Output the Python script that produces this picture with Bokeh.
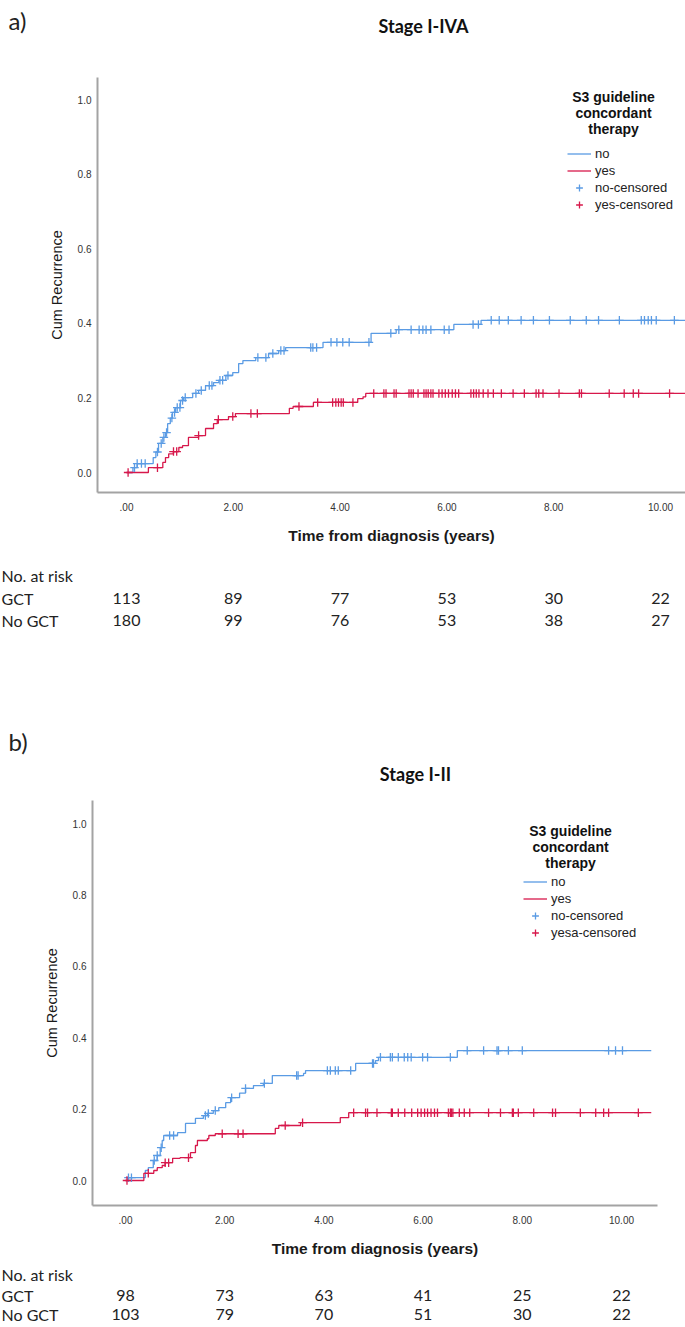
import numpy as np
from bokeh.plotting import figure
from bokeh.models import (Range1d, FixedTicker, Legend, LegendItem, Label,
                          LabelSet, ColumnDataSource)
from bokeh.core.properties import value
from bokeh.embed import file_html
from bokeh.resources import INLINE

BLUE = "#5a9be4"
RED = "#d7184b"
AXIS_GRAY = "#a3a3a3"
TEXT = "#222222"
W = 685

# ---------------- data ----------------
x_ticks = [0, 2, 4, 6, 8, 10]
x_tick_labels = [".00", "2.00", "4.00", "6.00", "8.00", "10.00"]
y_ticks = [0.0, 0.2, 0.4, 0.6, 0.8, 1.0]
y_tick_labels = ["0.0", "0.2", "0.4", "0.6", "0.8", "1.0"]
risk_times = [0, 2, 4, 6, 8, 10]
follow_up_end = 10.6

# Panel a: Stage I-IVA
a_no_t = [0, 0.12, 0.2, 0.5, 0.55, 0.6, 0.68, 0.73, 0.77, 0.82, 0.86, 0.92, 1.01,
          1.07, 1.24, 1.35, 1.48, 1.63, 1.73, 1.86, 1.99, 2.1, 2.18, 2.42, 2.66,
          2.85, 2.98, 3.68, 4.58, 5.05, 6.13, 6.64]
a_no_v = [0, 0.013, 0.024, 0.04, 0.055, 0.078, 0.094, 0.107, 0.131, 0.146, 0.161,
          0.174, 0.193, 0.201, 0.212, 0.22, 0.233, 0.241, 0.247, 0.26, 0.268, 0.292,
          0.3, 0.308, 0.319, 0.327, 0.335, 0.349, 0.373, 0.383, 0.397, 0.408]
a_no_cens = [0.15, 0.2, 0.28, 0.35, 0.58, 0.65, 0.7, 0.75, 0.85, 0.9, 0.95, 1.0,
             1.05, 1.1, 1.3, 1.4, 1.55, 1.6, 1.75, 1.8, 1.9, 2.46, 2.61, 2.74, 2.89,
             2.95, 3.45, 3.49, 3.56, 3.83, 3.94, 4.05, 4.17, 4.54, 4.95, 5.1, 5.33,
             5.48, 5.55, 5.61, 5.7, 5.95, 6.04, 6.49, 6.59, 6.83, 6.98, 7.15, 7.39,
             7.62, 7.92, 8.31, 8.61, 8.84, 9.23, 9.64, 9.7, 9.77, 9.83, 9.92, 10.26]
a_yes_t = [0, 0.41, 0.68, 0.73, 0.79, 0.88, 0.98, 1.05, 1.16, 1.35, 1.48, 1.63, 1.7,
           1.91, 2.04, 3.05, 3.12, 3.5, 4.33, 4.43, 4.48]
a_yes_v = [0, 0.013, 0.027, 0.04, 0.05, 0.056, 0.067, 0.072, 0.094, 0.099, 0.118,
           0.131, 0.142, 0.15, 0.158, 0.172, 0.177, 0.188, 0.198, 0.203, 0.212]
a_yes_cens = [0.03, 0.58, 0.88, 0.94, 1.35, 1.72, 1.99, 2.33, 2.45, 3.23, 3.58, 3.86,
              3.92, 3.97, 4.02, 4.06, 4.24, 4.63, 4.82, 4.86, 5.01, 5.05, 5.29, 5.33,
              5.37, 5.46, 5.57, 5.61, 5.65, 5.7, 5.74, 5.85, 5.91, 5.97, 6.03, 6.1,
              6.16, 6.22, 6.45, 6.5, 6.55, 6.6, 6.68, 6.77, 6.87, 7.02, 7.24, 7.45,
              7.67, 7.72, 7.8, 8.1, 8.48, 8.52, 9.04, 9.32, 9.49, 9.59, 10.17]
a_risk_gct = [113, 89, 77, 53, 30, 22]
a_risk_nogct = [180, 99, 76, 53, 38, 27]

# Panel b: Stage I-II
b_no_t = [0, 0.05, 0.4, 0.46, 0.56, 0.64, 0.7, 0.74, 0.77, 1.05, 1.21, 1.41, 1.57,
          1.65, 1.77, 1.88, 2.02, 2.12, 2.3, 2.42, 2.58, 2.78, 2.96, 3.59, 3.63,
          4.64, 5.04, 5.1, 6.69]
b_no_v = [0, 0.008, 0.028, 0.036, 0.056, 0.07, 0.092, 0.112, 0.126, 0.134, 0.16,
          0.174, 0.182, 0.188, 0.196, 0.204, 0.218, 0.232, 0.245, 0.258, 0.266,
          0.272, 0.294, 0.3, 0.308, 0.328, 0.336, 0.345, 0.364]
b_no_cens = [0.06, 0.12, 0.58, 0.64, 0.72, 0.89, 0.97, 1.61, 1.67, 1.81, 2.14, 2.42,
             2.8, 3.45, 3.48, 4.07, 4.13, 4.23, 4.29, 4.54, 4.98, 5.0, 5.14, 5.34,
             5.38, 5.5, 5.62, 5.69, 5.76, 5.99, 6.09, 6.55, 6.89, 7.22, 7.49, 7.52,
             7.72, 8.0, 9.74, 9.88, 10.02]
b_yes_t = [0, 0.37, 0.57, 0.64, 0.74, 0.8, 0.95, 1.1, 1.31, 1.41, 1.45, 1.65, 1.68,
           1.81, 3.02, 3.09, 3.53, 4.33, 4.5]
b_yes_v = [0, 0.02, 0.028, 0.036, 0.042, 0.05, 0.062, 0.064, 0.078, 0.098, 0.112,
           0.117, 0.126, 0.131, 0.146, 0.154, 0.162, 0.176, 0.19]
b_yes_cens = [0.03, 0.46, 0.8, 0.87, 1.27, 1.95, 2.27, 2.37, 3.22, 3.57, 4.6, 4.84,
              4.88, 5.07, 5.36, 5.38, 5.5, 5.63, 5.77, 5.89, 5.96, 6.03, 6.09, 6.16,
              6.23, 6.29, 6.51, 6.55, 6.57, 6.6, 6.73, 6.83, 6.94, 7.32, 7.56, 7.8,
              7.82, 7.92, 8.23, 8.61, 8.67, 9.17, 9.48, 9.64, 9.74, 10.34]
b_risk_gct = [98, 73, 63, 41, 25, 22]
b_risk_nogct = [103, 79, 70, 51, 30, 22]

legend_title_lines = ["S3 guideline", "concordant", "therapy"]
a_legend_labels = ["no", "yes", "no-censored", "yes-censored"]
b_legend_labels = ["no", "yes", "no-censored", "yesa-censored"]
risk_header = "No. at risk"
risk_row_names = ["GCT", "No GCT"]


def step_at(ts, vs, tc):
    idx = np.searchsorted(np.asarray(ts), np.asarray(tc), side="right") - 1
    return np.asarray(vs)[idx]


# ---------------- layout geometry (page pixels) ----------------
geom_a = dict(top=70, bottom=548, fl=97, fr=685, ft=77, fb=492, x0=126, ppx=53.4,
              y0=472, ppy=373, lg_x=567, lg_top=145, lt_x=613, lt_y=96)
geom_b = dict(top=790, bottom=1262, fl=92, fr=657, ft=800, fb=1205, x0=125, ppx=49.6,
              y0=1180, ppy=357, lg_x=523, lg_top=873, lt_x=570, lt_y=830)


def mappers(g):
    fx = lambda px: (px - g["x0"]) / g["ppx"]
    fy = lambda py: (g["y0"] - py) / g["ppy"]
    return fx, fy


def make_plot(g, no_t, no_v, no_c, yes_t, yes_v, yes_c, legend_labels):
    fx, fy = mappers(g)
    p = figure(width=W, height=g["bottom"] - g["top"],
               x_range=Range1d(fx(g["fl"]), fx(g["fr"])),
               y_range=Range1d(fy(g["fb"]), fy(g["ft"])),
               output_backend="svg", toolbar_location=None,
               min_border_left=g["fl"], min_border_right=W - g["fr"],
               min_border_top=g["ft"] - g["top"],
               min_border_bottom=g["bottom"] - g["fb"])
    p.outline_line_color = None
    p.xgrid.visible = False
    p.ygrid.visible = False
    p.background_fill_color = "white"
    p.border_fill_color = "white"

    for ax in (p.xaxis, p.yaxis):
        ax.axis_line_color = AXIS_GRAY
        ax.axis_line_width = 2
        ax.major_tick_line_color = None
        ax.minor_tick_line_color = None
        ax.major_tick_in = 0
        ax.major_tick_out = 0
        ax.minor_tick_in = 0
        ax.minor_tick_out = 0
        ax.major_label_text_font = "Liberation Sans"
        ax.major_label_text_font_size = "10px"
        ax.major_label_text_color = "#333333"
        ax.axis_label_text_font = "Liberation Sans"
        ax.axis_label_text_color = "#1a1a1a"

    p.xaxis.ticker = FixedTicker(ticks=x_ticks)
    p.xaxis.major_label_overrides = dict(zip(x_ticks, x_tick_labels))
    p.xaxis.major_label_standoff = 10
    p.xaxis.axis_label = "Time from diagnosis (years)"
    p.xaxis.axis_label_text_font_style = "bold"
    p.xaxis.axis_label_text_font_size = "15.5px"
    p.xaxis.axis_label_standoff = 13

    p.yaxis.ticker = FixedTicker(ticks=y_ticks)
    p.yaxis.major_label_overrides = dict(zip(y_ticks, y_tick_labels))
    p.yaxis.major_label_standoff = 6
    p.yaxis.axis_label = "Cum Recurrence"
    p.yaxis.axis_label_text_font_style = "normal"
    p.yaxis.axis_label_text_font_size = "14.5px"
    p.yaxis.axis_label_standoff = 10

    src_no = ColumnDataSource(dict(t=list(no_t) + [follow_up_end],
                                   v=list(no_v) + [no_v[-1]]))
    src_yes = ColumnDataSource(dict(t=list(yes_t) + [follow_up_end],
                                    v=list(yes_v) + [yes_v[-1]]))
    r_no = p.step("t", "v", source=src_no, mode="after", line_color=BLUE, line_width=1.3)
    r_yes = p.step("t", "v", source=src_yes, mode="after", line_color=RED, line_width=1.3)

    c_no = ColumnDataSource(dict(t=no_c, v=step_at(no_t, no_v, no_c)))
    c_yes = ColumnDataSource(dict(t=yes_c, v=step_at(yes_t, yes_v, yes_c)))
    s_no = p.scatter("t", "v", source=c_no, marker="cross", size=8.5,
                     line_color=BLUE, line_width=1.3)
    s_yes = p.scatter("t", "v", source=c_yes, marker="cross", size=8.5,
                      line_color=RED, line_width=1.3)

    legend = Legend(items=[LegendItem(label=legend_labels[0], renderers=[r_no]),
                           LegendItem(label=legend_labels[1], renderers=[r_yes]),
                           LegendItem(label=legend_labels[2], renderers=[s_no]),
                           LegendItem(label=legend_labels[3], renderers=[s_yes])],
                    location=(g["lg_x"] - g["fl"], g["fb"] - (g["lg_top"] + 68)),
                    border_line_color=None, background_fill_alpha=0,
                    padding=0, margin=0, spacing=0,
                    glyph_width=24, glyph_height=17, label_height=17,
                    label_standoff=4, label_text_font="Liberation Sans",
                    label_text_font_size="13px", label_text_color=TEXT)
    p.add_layout(legend)

    for i, line in enumerate(legend_title_lines):
        p.add_layout(Label(x=fx(g["lt_x"]), y=fy(g["lt_y"] + 16 * i), text=line,
                           text_align="center", text_baseline="middle",
                           text_font="Liberation Sans", text_font_style="bold",
                           text_font_size="14px", text_color="#111111"))
    return p


def make_strip(g, top, bottom):
    """Text strip spanning full width; x in the panel's time units, y in page px."""
    fx, _ = mappers(g)
    s = figure(width=W, height=bottom - top,
               x_range=Range1d(fx(0), fx(W)), y_range=Range1d(bottom, top),
               output_backend="svg", toolbar_location=None,
               x_axis_location=None, y_axis_location=None,
               min_border=0, min_border_left=0, min_border_right=0,
               min_border_top=0, min_border_bottom=0)
    s.outline_line_color = None
    s.grid.visible = False
    s.background_fill_color = "white"
    s.border_fill_color = "white"
    return s


def add_header(s, g, letter, title, letter_y, title_x, title_y):
    fx, _ = mappers(g)
    s.add_layout(Label(x=fx(8), y=letter_y, text=letter, text_align="left",
                       text_baseline="middle", text_font="Lato",
                       text_font_size="24px", text_color=TEXT))
    s.add_layout(Label(x=fx(title_x), y=title_y, text=title, text_align="center",
                       text_baseline="middle", text_font="Lato",
                       text_font_style="bold", text_font_size="18px",
                       text_color="#111111"))


def add_risk_table(s, g, risk_gct, risk_nogct, rows_y):
    fx, _ = mappers(g)
    s.add_layout(Label(x=fx(1), y=rows_y[0], text=risk_header, text_align="left",
                       text_baseline="middle", text_font="Lato",
                       text_font_size="16px", text_color=TEXT))
    for name, counts, yy in zip(risk_row_names, [risk_gct, risk_nogct], rows_y[1:]):
        s.add_layout(Label(x=fx(1), y=yy, text=name, text_align="left",
                           text_baseline="middle", text_font="Lato",
                           text_font_size="16px", text_color=TEXT))
        src = ColumnDataSource(dict(t=risk_times, y=[yy] * len(risk_times),
                                    txt=[str(c) for c in counts]))
        s.add_layout(LabelSet(x="t", y="y", text="txt", source=src,
                              text_align="center", text_baseline="middle",
                              text_font=value("Lato"), text_font_size="16px",
                              text_color=TEXT))


strip1 = make_strip(geom_a, 0, geom_a["top"])
add_header(strip1, geom_a, "a)", "Stage I-IVA", 20, 423, 25)

plot_a = make_plot(geom_a, a_no_t, a_no_v, a_no_cens, a_yes_t, a_yes_v, a_yes_cens,
                   a_legend_labels)

strip2 = make_strip(geom_a, geom_a["bottom"], geom_b["top"])
add_risk_table(strip2, geom_a, a_risk_gct, a_risk_nogct, [575, 598, 620])
add_header(strip2, geom_a, "b)", "Stage I-II", 741, 415, 773)

plot_b = make_plot(geom_b, b_no_t, b_no_v, b_no_cens, b_yes_t, b_yes_v, b_yes_cens,
                   b_legend_labels)

strip3 = make_strip(geom_b, geom_b["bottom"], 1327)
add_risk_table(strip3, geom_b, b_risk_gct, b_risk_nogct, [1274, 1295, 1314])

open("out.html", "w").write(file_html([strip1, plot_a, strip2, plot_b, strip3], INLINE))
